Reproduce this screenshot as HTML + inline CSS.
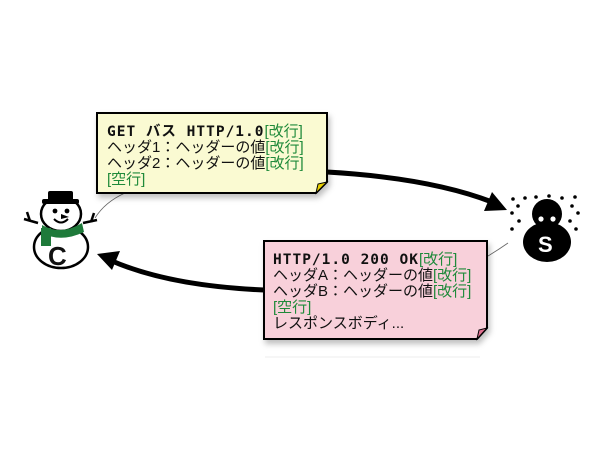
<!DOCTYPE html>
<html><head><meta charset="utf-8"><style>
html,body{margin:0;padding:0;background:#fff;width:600px;height:450px;overflow:hidden}
svg{display:block}
text{font-family:"Liberation Sans","Noto Sans CJK JP",sans-serif;font-size:15px;fill:#111}
.b{font-weight:bold;font-family:"DejaVu Sans Mono","Liberation Mono","Noto Sans CJK JP",monospace;font-size:14.5px;letter-spacing:1px}
.g{fill:#1f8a3a}
</style></head><body>
<svg width="600" height="450" viewBox="0 0 600 450">
<defs>
<filter id="sh" x="-10%" y="-10%" width="130%" height="140%"><feDropShadow dx="2" dy="4" stdDeviation="3" flood-color="#000" flood-opacity="0.25"/></filter>
</defs>
<path d="M125,193 Q105,202 95,218" stroke="#666" stroke-width="0.8" fill="none"/>
<path d="M488,256 Q498,250 508,243" stroke="#666" stroke-width="0.8" fill="none"/>
<line x1="265" y1="357" x2="480" y2="357" stroke="#eee" stroke-width="1"/>
<path d="M327,172 Q430,178 492,202" stroke="#000" stroke-width="5" fill="none"/>
<polygon points="507,210 484,211 492,192" fill="#000"/>
<path d="M264,290 Q170,286 112,261" stroke="#000" stroke-width="5" fill="none"/>
<polygon points="97,254 120,251 112,270" fill="#000"/>
<g filter="url(#sh)">
<polygon points="97,113 327,113 327,182 316,193 97,193" fill="#fafad2" stroke="#000" stroke-width="2"/>
</g>
<polygon points="316,193 318,184 327,182" fill="#e8d000" stroke="#000" stroke-width="1"/>
<text x="107" y="136"><tspan class="b">GET バス HTTP/1.0</tspan><tspan class="g">[改行]</tspan></text>
<text x="107" y="152">ヘッダ1：ヘッダーの値<tspan class="g">[改行]</tspan></text>
<text x="107" y="168">ヘッダ2：ヘッダーの値<tspan class="g">[改行]</tspan></text>
<text x="107" y="184" class="g">[空行]</text>
<g filter="url(#sh)">
<polygon points="264,241 487,241 487,328 477,339 264,339" fill="#f8d0da" stroke="#000" stroke-width="2"/>
</g>
<polygon points="477,339 479,330 487,328" fill="#e07090" stroke="#000" stroke-width="1"/>
<text x="273" y="264"><tspan class="b">HTTP/1.0 200 OK</tspan><tspan class="g">[改行]</tspan></text>
<text x="273" y="280">ヘッダA：ヘッダーの値<tspan class="g">[改行]</tspan></text>
<text x="273" y="296">ヘッダB：ヘッダーの値<tspan class="g">[改行]</tspan></text>
<text x="273" y="312" class="g">[空行]</text>
<text x="273" y="328">レスポンスボディ...</text>
<g stroke="#000" stroke-width="2.5" fill="#fff">
<line x1="38" y1="223" x2="24" y2="219"/><line x1="30" y1="221" x2="27" y2="212"/>
<line x1="83" y1="223" x2="97" y2="220"/><line x1="91" y1="222" x2="94" y2="213"/>
<ellipse cx="61" cy="247" rx="27" ry="21"/>
<ellipse cx="61" cy="214" rx="20" ry="17"/>
</g>
<path d="M42,225 Q61,236 82,223 L84,232 Q61,243 42,233 Z" fill="#1e7a3a"/>
<rect x="41" y="228" width="10" height="18" fill="#1e7a3a"/>
<rect x="48" y="191" width="25" height="11" rx="2" fill="#000"/>
<rect x="42" y="199" width="37" height="5" rx="2" fill="#000"/>
<circle cx="55" cy="211" r="2.4"/><circle cx="67" cy="211" r="2.4"/>
<path d="M61,214 L69,217 L61,219Z" fill="#000"/>
<path d="M54,219 Q61,226 68,219" stroke="#000" stroke-width="2" fill="none"/>
<text x="48" y="265" style="font-size:26px;font-weight:bold">C</text>
<g fill="#000">
<circle cx="547" cy="214" r="15"/>
<ellipse cx="547" cy="242" rx="24" ry="20"/>
<circle cx="513" cy="199" r="1.8"/><circle cx="525" cy="198" r="1.8"/><circle cx="536" cy="197" r="1.8"/><circle cx="549" cy="196" r="1.8"/><circle cx="562" cy="198" r="1.8"/><circle cx="575" cy="197" r="1.8"/>
<circle cx="518" cy="206" r="1.8"/><circle cx="572" cy="206" r="1.8"/><circle cx="512" cy="213" r="1.8"/><circle cx="578" cy="213" r="1.8"/>
<circle cx="519" cy="221" r="1.8"/><circle cx="570" cy="221" r="1.8"/><circle cx="512" cy="229" r="1.8"/><circle cx="576" cy="229" r="1.8"/>
</g>
<circle cx="541" cy="219" r="2.6" fill="#fff"/><circle cx="553" cy="219" r="2.6" fill="#fff"/>
<text x="538" y="252" style="font-size:22px;font-weight:bold;fill:#fff">S</text>
</svg>
</body></html>
